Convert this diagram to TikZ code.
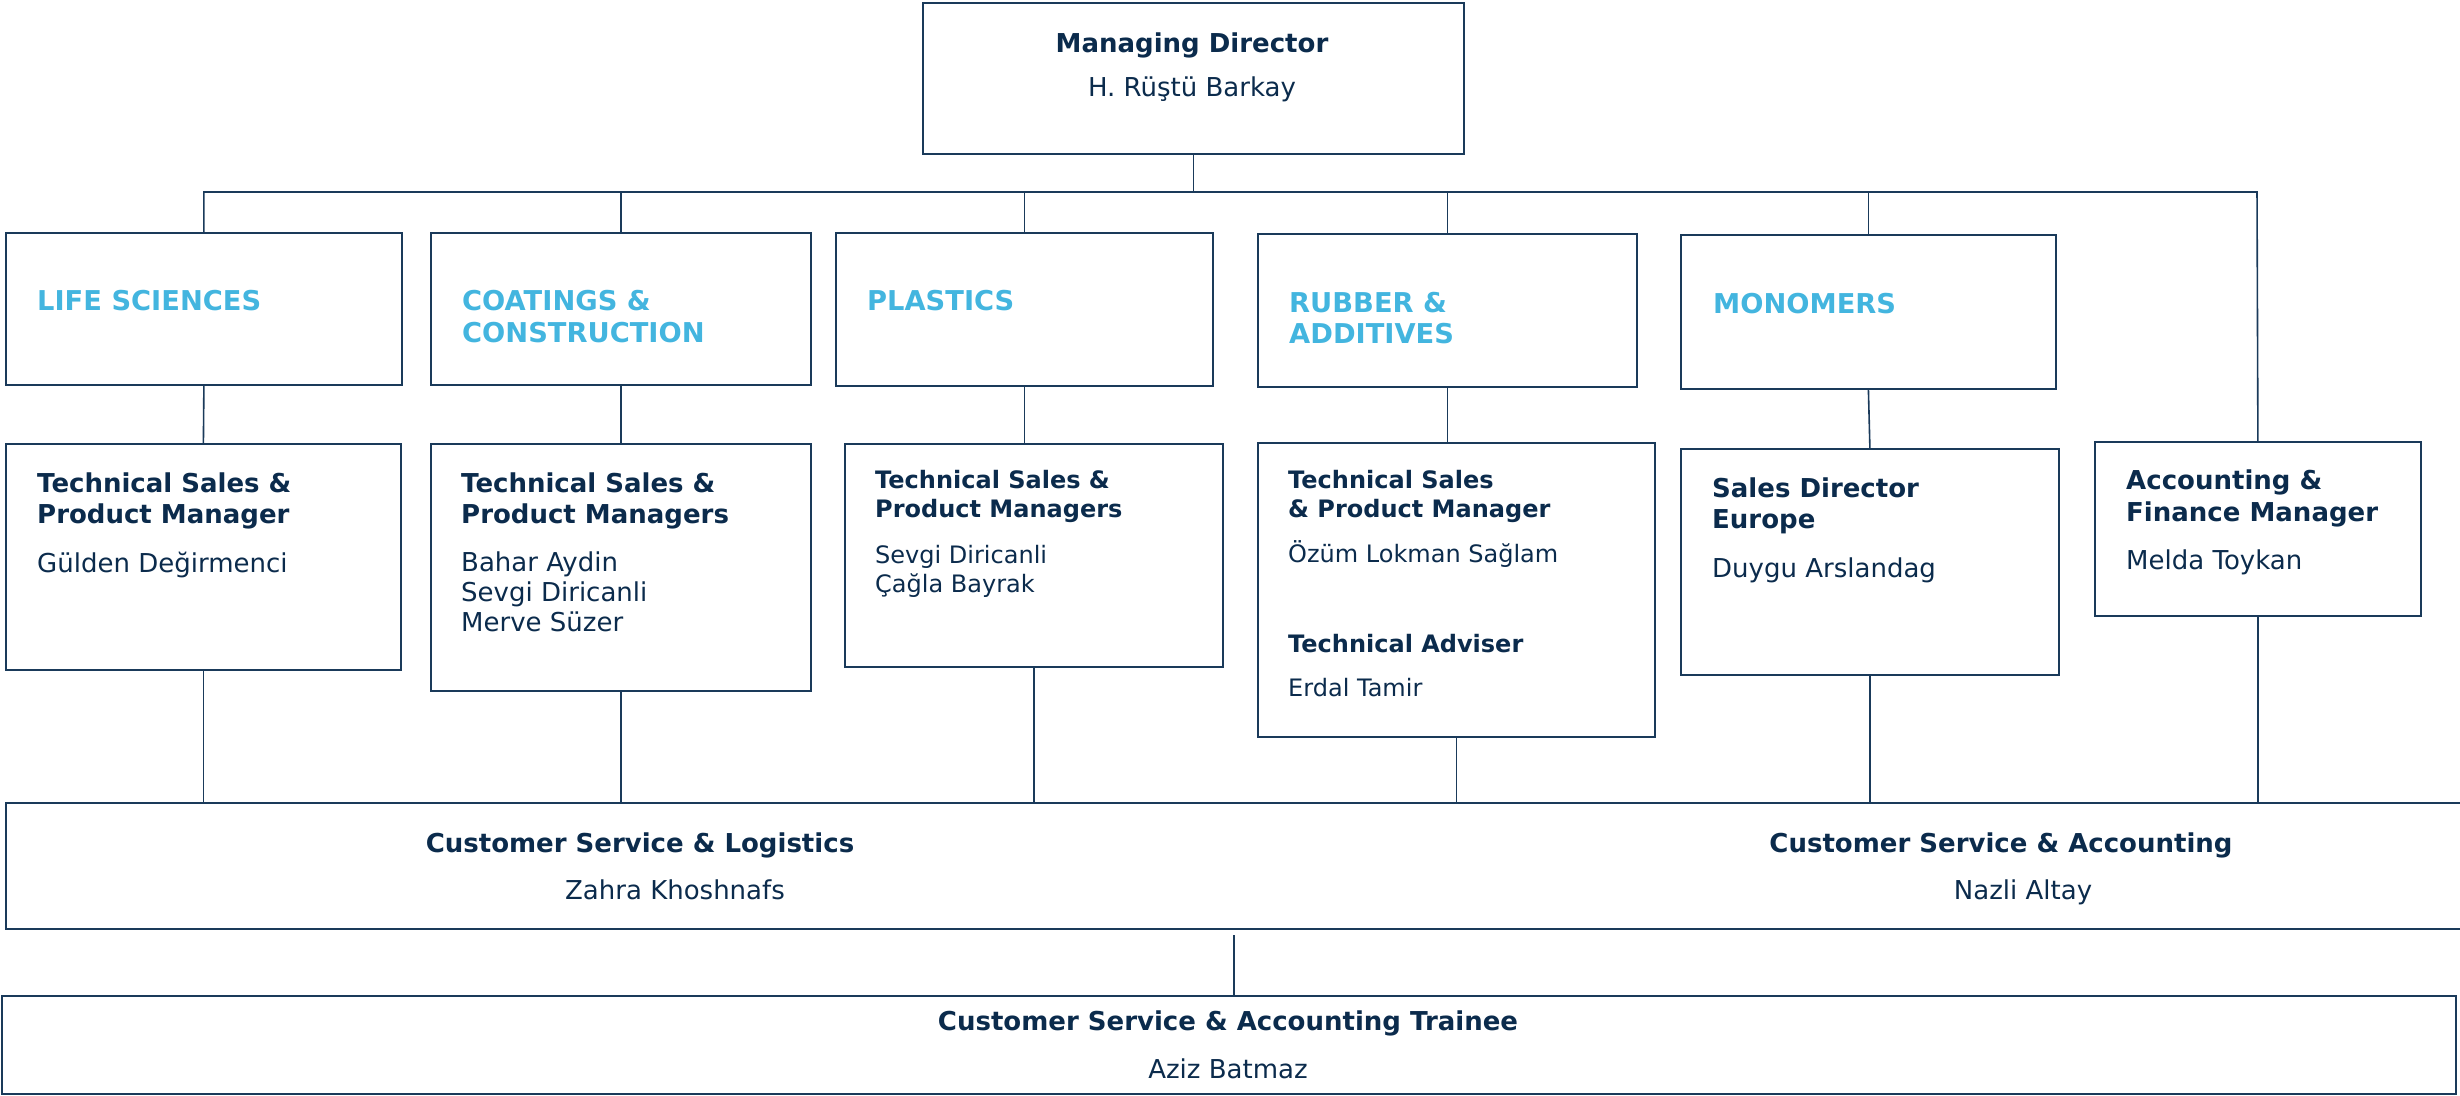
\documentclass[tikz,border=0pt]{standalone}
\usepackage{fontspec}
\setmainfont{DejaVu Sans}
\definecolor{navy}{HTML}{0B2B4C}
\definecolor{linec}{HTML}{1A3A5A}
\definecolor{cyanc}{HTML}{43B5DF}
\begin{document}
\begin{tikzpicture}[x=1pt,y=-1pt,
  box/.style={draw=linec, line width=1.8pt, rectangle, inner sep=0pt, anchor=north west},
  conn/.style={draw=linec, line width=1.6pt},
  ttl/.style={font=\bfseries\fontsize{26}{31}\selectfont, text=navy, inner sep=0pt, anchor=base west},
  nm/.style={font=\fontsize{26}{31}\selectfont, text=navy, inner sep=0pt, anchor=base west},
  sttl/.style={font=\bfseries\fontsize{24}{29}\selectfont, text=navy, inner sep=0pt, anchor=base west},
  snm/.style={font=\fontsize{24}{29}\selectfont, text=navy, inner sep=0pt, anchor=base west},
  div/.style={font=\bfseries\fontsize{27.3}{31}\selectfont, text=cyanc, inner sep=0pt, anchor=base west},
  ctr/.style={anchor=base}
]
\useasboundingbox (0,0) rectangle (2460,1095);

% boxes
\node[box, minimum width=541pt, minimum height=151pt] (md) at (922,2) {};
\node[box, minimum width=396pt, minimum height=152pt] (ls) at (5,232) {};
\node[box, minimum width=380pt, minimum height=152pt] (co) at (430,232) {};
\node[box, minimum width=377pt, minimum height=153pt] (pl) at (835,232) {};
\node[box, minimum width=379pt, minimum height=153pt] (rb) at (1257,233) {};
\node[box, minimum width=375pt, minimum height=154pt] (mo) at (1680,234) {};
\node[box, minimum width=395pt, minimum height=226pt] (ts1) at (5,443) {};
\node[box, minimum width=380pt, minimum height=247pt] (ts2) at (430,443) {};
\node[box, minimum width=378pt, minimum height=223pt] (ts3) at (844,443) {};
\node[box, minimum width=397pt, minimum height=294pt] (ts4) at (1257,442) {};
\node[box, minimum width=378pt, minimum height=226pt] (sd) at (1680,448) {};
\node[box, minimum width=326pt, minimum height=174pt] (acc) at (2094,441) {};
\node[box, minimum width=2480pt, minimum height=126pt] (cs) at (5,802) {};
\node[box, minimum width=2454pt, minimum height=98pt] (tr) at (1,995) {};

% connectors
\coordinate (busL) at (203,192);
\coordinate (busR) at (2257,192);
\draw[conn] (ls.north) -- (ls.north |- busL) -- (busR) -- (acc.north);
\draw[conn] (md.south) -- (md.south |- busL);
\foreach \n in {co,pl,rb,mo} \draw[conn] (\n.north) -- (\n.north |- busL);
\draw[conn] (ls.south) -- (ts1.north);
\draw[conn] (co.south) -- (ts2.north);
\draw[conn] (pl.south) -- (pl.south |- ts3.north);
\draw[conn] (rb.south) -- (rb.south |- ts4.north);
\draw[conn] (mo.south) -- (sd.north);
\foreach \n in {ts1,ts2,ts3,ts4,sd,acc} \draw[conn] (\n.south) -- (\n.south |- cs.north);
\coordinate (csgap) at (1234,935);
\draw[conn] (csgap) -- (csgap |- tr.north);

% texts
\node[ttl, ctr] (mdt) at (1192,52) {Managing Director};
\node[nm, ctr] (mdn) at (1192,96) {H. Rüştü Barkay};

\node[div] (lst) at (37,310) {LIFE SCIENCES};
\node[div] (cot1) at (462,310) {COATINGS \&};
\node[div] (cot2) at (462,342) {CONSTRUCTION};
\node[div] (plt) at (867,310) {PLASTICS};
\node[div] (rbt1) at (1289,312) {RUBBER \&};
\node[div] (rbt2) at (1289,343) {ADDITIVES};
\node[div] (mot) at (1713,313) {MONOMERS};

\node[ttl] (t1a) at (37,492) {Technical Sales \&};
\node[ttl] (t1b) at (37,523) {Product Manager};
\node[nm] (t1n) at (37,572) {Gülden Değirmenci};

\node[ttl] (t2a) at (461,492) {Technical Sales \&};
\node[ttl] (t2b) at (461,523) {Product Managers};
\node[nm] (t2n1) at (461,571) {Bahar Aydin};
\node[nm] (t2n2) at (461,601) {Sevgi Diricanli};
\node[nm] (t2n3) at (461,631) {Merve Süzer};

\node[sttl] (t3a) at (875,488) {Technical Sales \&};
\node[sttl] (t3b) at (875,517) {Product Managers};
\node[snm] (t3n1) at (875,563) {Sevgi Diricanli};
\node[snm] (t3n2) at (875,592) {Çağla Bayrak};

\node[sttl] (t4a) at (1288,488) {Technical Sales};
\node[sttl] (t4b) at (1288,517) {\& Product Manager};
\node[snm] (t4n1) at (1288,562) {Özüm Lokman Sağlam};
\node[sttl] (t4c) at (1288,652) {Technical Adviser};
\node[snm] (t4n2) at (1288,696) {Erdal Tamir};

\node[ttl] (sda) at (1712,497) {Sales Director};
\node[ttl] (sdb) at (1712,528) {Europe};
\node[nm] (sdn) at (1712,577) {Duygu Arslandag};

\node[ttl] (aca) at (2126,489) {Accounting \&};
\node[ttl] (acb) at (2126,521) {Finance Manager};
\node[nm] (acn) at (2126,569) {Melda Toykan};

\node[ttl, ctr] (cslt) at (640,852) {Customer Service \& Logistics};
\node[nm, ctr] (csln) at (675,899) {Zahra Khoshnafs};
\node[ttl, ctr] (csat) at (2001,852) {Customer Service \& Accounting};
\node[nm, ctr] (csan) at (2023,899) {Nazli Altay};

\node[ttl, ctr] (trt) at (1228,1030) {Customer Service \& Accounting Trainee};
\node[nm, ctr] (trn) at (1228,1078) {Aziz Batmaz};
\end{tikzpicture}
\end{document}
